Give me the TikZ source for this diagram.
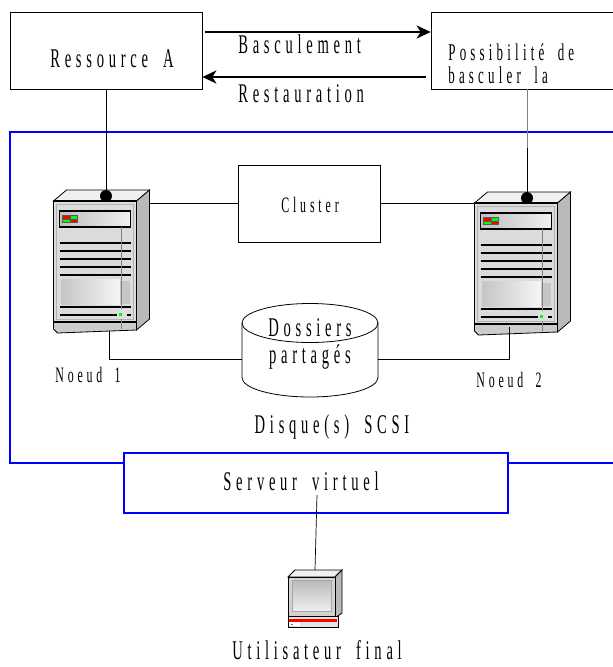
\documentclass[tikz,border=0pt]{standalone}
\usepackage{fontspec}
\usepackage{tikz}
\usetikzlibrary{arrows.meta}
\setmainfont{Liberation Serif}
\newfontfamily\lbl[FakeStretch=0.54,LetterSpace=17.5,WordSpace=1.8]{Liberation Serif}
\definecolor{bleu}{RGB}{0,0,255}
\tikzstyle{boite} = [draw, rectangle, inner sep=0]
\tikzstyle{txt} = [inner sep=0, font=\lbl\fontsize{27}{24}\selectfont]
\tikzstyle{petit} = [inner sep=0, font=\lbl\fontsize{22}{22}\selectfont]
\tikzstyle{fleche} = [line width=2.6pt, -{Stealth[length=14pt,width=13pt,inset=4pt]}]

\begin{document}
\begin{tikzpicture}[x=1pt,y=-1pt,line width=0.7pt]
\tikzset{
  pics/tour/.style={code={
    % faces du dessus et de cote
    \filldraw[fill=gray!12, thick] (0,0) -- (13,-11) -- (96,-11) -- (83,0) -- cycle;
    \filldraw[fill=gray!55, thick] (83,0) -- (96,-11) -- (96,118) -- (83,129) -- cycle;
    % socle
    \filldraw[fill=gray!40, thick] (0,120) -- (83,120) -- (83,129) -- (4,132) -- (0,128) -- cycle;
    % facade
    \filldraw[fill=gray!28, line width=1.6pt] (0,0) rectangle (83,121);
    \draw[gray!60, line width=0.4pt] (3,3) rectangle (80,118);
    % baie et voyants
    \shade[left color=gray!50, right color=gray!12] (6,10) rectangle (77,26);
    \draw[line width=1.2pt] (6,10) rectangle (77,26);
    \fill[gray!70!black] (8,14) rectangle (24,22);
    \fill[red] (9,15) rectangle (16,18);
    \fill[green] (17,15) rectangle (23,18);
    \fill[green] (9,19) rectangle (16,21);
    \fill[red] (17,19) rectangle (23,21);
    % grilles
    \foreach \y in {42,50,58,66,74}
    {
      \draw[line width=1.4pt] (6,\y) -- (77,\y);
    }
    \shade[left color=gray!45, right color=gray!8] (8,78) rectangle (66,103);
    \fill[gray!45] (66,80) rectangle (76,103);
    \foreach \y in {106,114}
    {
      \draw[line width=1.4pt] (6,\y) -- (77,\y);
    }
    % tige et bouton
    \draw[gray, line width=1.3pt] (68,26) -- (68,128);
    \fill[gray!25] (63,108) rectangle (73,118);
    \fill[green] (65,112) rectangle (68,115);
    % point de raccordement
    \node[circle, fill, inner sep=0, minimum size=12pt] (-dot) at (52.5,-5) {};
  }},
  pics/poste/.style={code={
    \filldraw[fill=gray!12, thick] (0,7) -- (7,0) -- (54,0) -- (47,7) -- cycle;
    \filldraw[fill=gray!55, thick] (47,7) -- (54,0) -- (54,43) -- (47,48) -- cycle;
    \filldraw[fill=gray!35, thick] (0,7) rectangle (47,46);
    \shade[top color=gray!55, bottom color=gray!12] (4,10) rectangle (43,41);
    \draw[gray!70, line width=0.4pt] (4,10) rectangle (43,41);
    \filldraw[fill=gray!20, thick] (0,46) rectangle (50,57);
    \fill[red] (1,48.5) rectangle (49,51.5);
    \fill[white] (1,52) rectangle (12,56);
    \fill[green!70!black] (3,53.5) rectangle (4.5,55);
    \coordinate (-haut) at (27,0);
  }}
}
\useasboundingbox (0,0) rectangle (613,667);
\clip (0,0) rectangle (613,667);

% ressources et bascule
\node[boite, minimum width=192pt, minimum height=77pt] (resA) at (106,50.5) {};
\node[txt, anchor=base] (resAtxt) at (112,67) {Ressource A};
\node[boite, minimum width=192pt, minimum height=77pt] (poss) at (527,50.5) {};
\node[txt, anchor=north west, align=left, font=\lbl\fontsize{24}{23}\selectfont] (posstxt) at (448,43) {Possibilité de\\basculer la};

\draw[fleche] ([xshift=3pt,yshift=18.5pt]resA.east) -- ([yshift=18.5pt]poss.west);
\draw[fleche] ([xshift=-5pt,yshift=-26.5pt]poss.west) -- ([yshift=-26.5pt]resA.east);
\node[txt, anchor=base west] (bascule) at (238,53) {Basculement};
\node[txt, anchor=base west] (resto) at (238,102) {Restauration};

% cluster
\draw[bleu, line width=2.7pt] (10,132) rectangle (640,463);
\node[boite, draw=bleu, line width=2.7pt, fill=white, minimum width=384pt, minimum height=60pt] (serveur) at (316,483) {};
\node[txt, anchor=base] (serveurtxt) at (301,490) {Serveur virtuel};

\node[boite, minimum width=142pt, minimum height=77pt] (cluster) at (309,203.5) {};
\node[petit] (clustertxt) at (310,205) {Cluster};

\pic (n1) at (53.5,201) {tour};
\pic (n2) at (474.5,203) {tour};
\coordinate (p1) at (109,331);
\coordinate (p2) at (509,327);

% disque partage
\filldraw[fill=white, thick] (242,323) -- (242,377.5)
  arc[start angle=180, end angle=360, x radius=68pt, y radius=19.5pt] -- (378,323);
\draw[thick] (310,323) ellipse [x radius=68pt, y radius=19.5pt];
\node[txt, align=center, font=\lbl\fontsize{27}{27}\selectfont] (disque) at (310,344) {Dossiers\\partagés};
\coordinate (dg) at (242,359);
\coordinate (dd) at (378,359);

% liaisons
\coordinate (coupure) at (527,148);
\draw (resA.south) -- (n1-dot);
\draw[gray] (poss.south) -- (coupure);
\draw (coupure) -- (n2-dot);
\draw (cluster.west) -- (149,203.5);
\draw (cluster.east) -- (474.5,203.5);
\draw (p1) |- (dg);
\draw (p2) |- (dd);

\node[petit, anchor=base] (noeud1) at (88,382) {Noeud 1};
\node[petit, anchor=base] (noeud2) at (509,387) {Noeud 2};
\node[txt, anchor=base] (scsi) at (332,433) {Disque(s) SCSI};

% poste client
\pic (pc) at (288,570) {poste};
\coordinate (sv) at (317,495);
\draw (sv) -- (pc-haut);
\node[txt, anchor=base] (util) at (317,659) {Utilisateur final};
\end{tikzpicture}
\end{document}
